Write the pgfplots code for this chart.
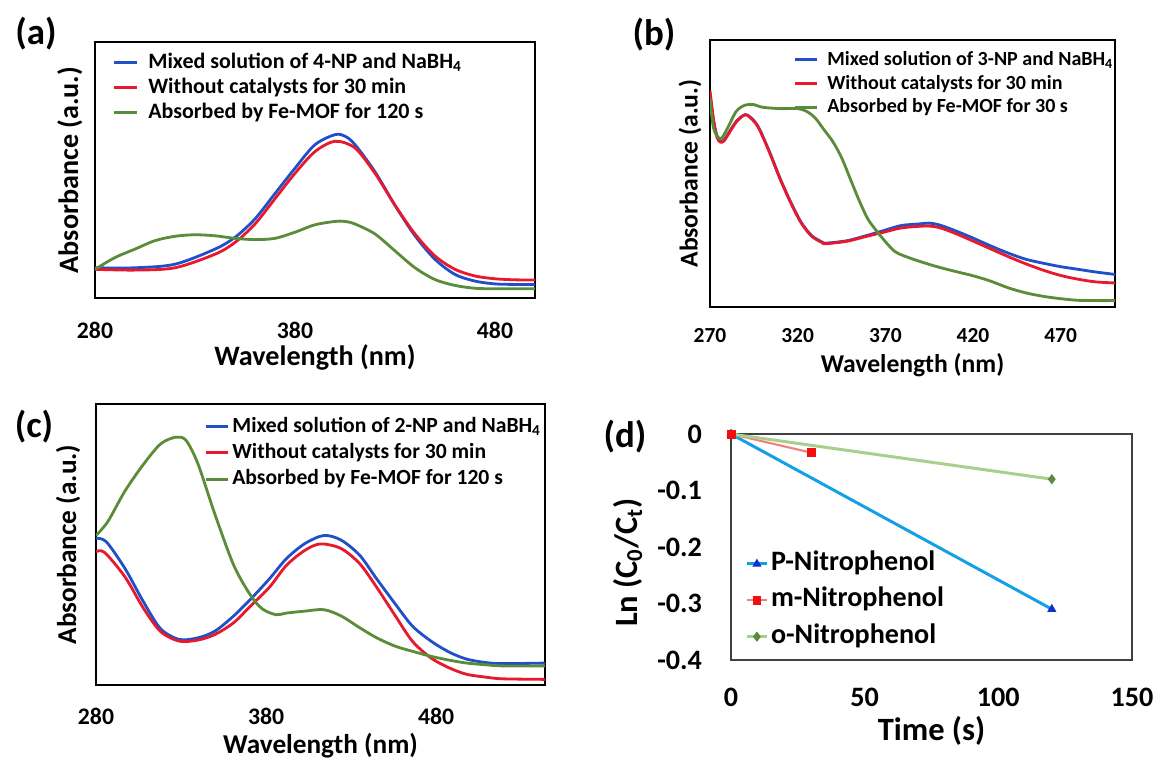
\documentclass[border=0pt]{standalone}
\usepackage{fontspec}
\setmainfont{Carlito}
\usepackage{pgfplots}
\pgfplotsset{compat=1.18}

\definecolor{cblue}{HTML}{2050C8}
\definecolor{cred}{HTML}{E8192C}
\definecolor{cgreen}{HTML}{5B8C3A}
\definecolor{pline}{HTML}{14A0E6}
\definecolor{pmark}{HTML}{1030D0}
\definecolor{mline}{HTML}{F08080}
\definecolor{mmark}{HTML}{F01010}
\definecolor{oline}{HTML}{A8D08D}
\definecolor{omark}{HTML}{5A8A3A}
\definecolor{boxgray}{HTML}{404040}

% shared look of the three spectra panels
\pgfplotsset{
  spec/.style={
    scale only axis,
    axis line style={black, line width=1.1pt},
    major tick length=0pt,
    ytick=\empty, ymin=0, ymax=1,
    /pgf/number format/assume math mode=true,
    /pgf/number format/1000 sep={},
    tick label style={font=\fontsize{13.5}{14}\selectfont\bfseries},
    label style={font=\fontsize{16}{18}\selectfont\bfseries},
    xlabel={Wavelength (nm)},
    ylabel={Absorbance (a.u.)},
    legend cell align=left,
    legend image code/.code={\draw[##1, line width=1.8pt] (0cm,0cm) -- (0.46cm,0cm);},
    legend style={draw=none, fill=none, inner sep=0pt, column sep=5.5pt,
      font=\fontsize{12.5}{13}\selectfont\bfseries,
      nodes={inner sep=0pt, text height=9pt, text depth=2.5pt}},
    every axis plot/.append style={line width=1.6pt, smooth, no markers},
  },
}

\begin{document}
\begin{tikzpicture}
\path[use as bounding box] (0,0) rectangle (23.06,15.22);

% panel labels
\node[font=\fontsize{21}{22}\selectfont\bfseries] at (0.72,14.54) {(a)};
\node[font=\fontsize{21}{22}\selectfont\bfseries] at (13.08,14.52) {(b)};
\node[font=\fontsize{21}{22}\selectfont\bfseries] at (0.68,6.68) {(c)};
\node[font=\fontsize{21}{22}\selectfont\bfseries] at (12.5,6.48) {(d)};

% (a) 4-NP
\begin{axis}[spec, at={(1.9cm,9.26cm)}, anchor=south west,
  width=8.8cm, height=5.12cm,
  xmin=280, xmax=500, xtick={280,380,480},
  xticklabel style={anchor=center, yshift=-18.7pt},
  xlabel style={at={(axis description cs:0.5,-0.234)}, anchor=center},
  ylabel style={at={(axis description cs:-0.057,0.5)}, anchor=center},
  legend style={at={(0.039,0.961)}, anchor=north west, row sep=2.7pt}]
\addplot[cblue] coordinates {
  (280,0.118)(300,0.118)(320,0.132)(340,0.191)(350,0.237)(360,0.309)
  (370,0.408)(380,0.507)(390,0.599)(400,0.638)(405,0.632)(410,0.599)
  (420,0.493)(430,0.362)(440,0.243)(450,0.151)(460,0.092)(470,0.066)
  (480,0.055)(490,0.053)(500,0.053)};
\addlegendentry{Mixed solution of 4-NP and NaBH\textsubscript{4}}
\addplot[cred] coordinates {
  (280,0.112)(300,0.109)(320,0.118)(340,0.171)(350,0.217)(360,0.289)
  (370,0.388)(380,0.487)(390,0.572)(400,0.612)(410,0.586)(420,0.487)
  (430,0.362)(440,0.250)(450,0.164)(460,0.112)(470,0.086)(480,0.075)
  (490,0.071)(500,0.070)};
\addlegendentry{Without catalysts for 30 min}
\addplot[cgreen] coordinates {
  (280,0.112)(290,0.158)(300,0.191)(310,0.224)(320,0.241)(330,0.247)
  (340,0.243)(350,0.233)(360,0.228)(370,0.233)(380,0.257)(390,0.286)
  (400,0.299)(405,0.299)(410,0.289)(420,0.250)(430,0.184)(440,0.118)
  (450,0.072)(460,0.049)(470,0.038)(480,0.036)(500,0.036)};
\addlegendentry{Absorbed by Fe-MOF for 120 s}
\end{axis}

% (b) 3-NP
\begin{axis}[spec, at={(14.2cm,9.08cm)}, anchor=south west,
  width=8.1cm, height=5.34cm,
  xmin=270, xmax=501, xtick={270,320,370,420,470},
  tick label style={font=\fontsize{12.2}{13}\selectfont\bfseries},
  label style={font=\fontsize{14.6}{16}\selectfont\bfseries},
  xticklabel style={anchor=center, yshift=-16.4pt},
  xlabel style={at={(axis description cs:0.5,-0.217)}, anchor=center},
  ylabel style={at={(axis description cs:-0.049,0.5)}, anchor=center},
  legend image code/.code={\draw[#1, line width=1.8pt] (0cm,0cm) -- (0.44cm,0cm);},
  legend style={at={(0.205,0.963)}, anchor=north west, row sep=2.6pt,
    column sep=5pt, font=\fontsize{11.4}{12}\selectfont\bfseries,
    nodes={inner sep=0pt, text height=8.5pt, text depth=2.5pt}}]
\addplot[cblue] coordinates {
  (270,0.80)(272,0.70)(274,0.64)(276,0.62)(278,0.625)(280,0.645)
  (285,0.695)(290,0.72)(294,0.705)(298,0.669)(304,0.58)(310,0.481)
  (316,0.393)(322,0.317)(328,0.267)(334,0.243)(336,0.239)(348,0.248)
  (359,0.267)(369,0.286)(379,0.305)(389,0.311)(395,0.314)(401,0.307)
  (409,0.288)(419,0.261)(430,0.229)(440,0.202)(450,0.179)(460,0.164)
  (470,0.151)(480,0.141)(490,0.131)(501,0.122)};
\addlegendentry{Mixed solution of 3-NP and NaBH\textsubscript{4}}
\addplot[cred] coordinates {
  (270,0.81)(272,0.70)(274,0.635)(276,0.617)(278,0.622)(280,0.642)
  (285,0.693)(290,0.72)(294,0.703)(298,0.667)(304,0.578)(310,0.479)
  (316,0.391)(322,0.315)(328,0.265)(334,0.241)(336,0.237)(348,0.246)
  (359,0.264)(369,0.280)(379,0.296)(389,0.302)(395,0.303)(401,0.297)
  (409,0.278)(419,0.250)(430,0.218)(440,0.189)(450,0.162)(460,0.138)
  (470,0.118)(480,0.104)(490,0.094)(501,0.090)};
\addlegendentry{Without catalysts for 30 min}
\addplot[cgreen] coordinates {
  (270,0.783)(272,0.67)(276,0.63)(280,0.67)(285,0.733)(290,0.756)
  (295,0.758)(300,0.748)(310,0.743)(320,0.743)(325,0.733)(330,0.708)
  (335,0.664)(340,0.62)(345,0.56)(350,0.48)(355,0.40)(360,0.33)
  (365,0.285)(370,0.245)(375,0.21)(380,0.193)(390,0.170)(400,0.150)
  (410,0.133)(420,0.117)(430,0.097)(440,0.072)(450,0.053)(460,0.040)
  (470,0.031)(480,0.025)(490,0.024)(501,0.024)};
\addlegendentry{Absorbed by Fe-MOF for 30 s}
\end{axis}

% (c) 2-NP
\begin{axis}[spec, at={(1.92cm,1.52cm)}, anchor=south west,
  width=8.98cm, height=5.62cm,
  xmin=280, xmax=544, xtick={280,380,480},
  label style={font=\fontsize{15.5}{17}\selectfont\bfseries},
  xticklabel style={anchor=center, yshift=-18.1pt},
  xlabel style={at={(axis description cs:0.5,-0.217)}, anchor=center},
  ylabel style={at={(axis description cs:-0.062,0.5)}, anchor=center},
  legend image code/.code={\draw[#1, line width=1.8pt] (0cm,0cm) -- (0.44cm,0cm);},
  legend style={at={(0.241,0.957)}, anchor=north west, row sep=3.5pt,
    column sep=1.5pt, font=\fontsize{12.3}{13}\selectfont\bfseries}]
\addplot[cblue] coordinates {
  (280,0.522)(286,0.510)(297,0.415)(308,0.295)(318,0.200)(329,0.162)
  (340,0.168)(350,0.192)(361,0.246)(371,0.306)(382,0.378)(392,0.450)
  (403,0.504)(414,0.532)(424,0.516)(435,0.462)(445,0.378)(456,0.288)
  (466,0.210)(477,0.156)(488,0.116)(498,0.092)(509,0.080)(519,0.076)
  (544,0.078)};
\addlegendentry{Mixed solution of 2-NP and NaBH\textsubscript{4}}
\addplot[cred] coordinates {
  (280,0.474)(285,0.472)(297,0.385)(308,0.272)(318,0.190)
  (329,0.156)(340,0.160)(350,0.180)(361,0.222)(371,0.282)(382,0.348)
  (392,0.426)(403,0.480)(412,0.502)(424,0.486)(435,0.432)(445,0.348)
  (456,0.246)(466,0.156)(477,0.096)(488,0.060)(498,0.038)(509,0.028)
  (519,0.022)(544,0.020)};
\addlegendentry{Without catalysts for 30 min}
\addplot[cgreen] coordinates {
  (280,0.532)(287,0.582)(297,0.690)(308,0.786)(318,0.858)(327,0.882)
  (333,0.870)(340,0.786)(350,0.606)(361,0.426)(371,0.318)(378,0.270)
  (386,0.250)(392,0.256)(403,0.263)(414,0.268)(424,0.246)(435,0.204)
  (445,0.168)(456,0.138)(466,0.120)(477,0.102)(488,0.088)(498,0.078)
  (509,0.072)(519,0.068)(544,0.068)};
\addlegendentry{Absorbed by Fe-MOF for 120 s}
\end{axis}

% (d) kinetics
\begin{axis}[scale only axis, at={(14.62cm,2.02cm)}, anchor=south west,
  width=8.02cm, height=4.52cm,
  xmin=0, xmax=150, ymin=-0.4, ymax=0,
  xtick={0,50,100,150},
  ytick={-0.4,-0.3,-0.2,-0.1,0},
  yticklabels={-0.4,-0.3,-0.2,-0.1,0},
  major tick length=0pt,
  axis line style={boxgray, line width=1.1pt},
  /pgf/number format/assume math mode=true,
  tick label style={font=\fontsize{16}{17}\selectfont\bfseries},
  xticklabel style={anchor=center, yshift=-21pt},
  yticklabel style={anchor=east, xshift=-13pt},
  label style={font=\fontsize{18.5}{20}\selectfont\bfseries},
  xlabel={Time (s)},
  ylabel={Ln (C\textsubscript{0}/C\textsubscript{t})},
  xlabel style={at={(axis description cs:0.5,-0.314)}, anchor=center},
  ylabel style={at={(axis description cs:-0.257,0.43)}, anchor=center},
  legend cell align=left,
  legend image code/.code={\draw[#1, mark repeat=2, mark phase=2]
    plot coordinates {(0cm,0cm) (0.2cm,0cm) (0.4cm,0cm)};},
  legend style={draw=none, fill=none, inner sep=0pt, column sep=1.5pt,
    at={(0.035,0.487)}, anchor=north west, row sep=5.2pt,
    font=\fontsize{16}{17}\selectfont\bfseries,
    nodes={inner sep=0pt, text height=11.5pt, text depth=4pt}},
  clip=false]
\addplot[pline, line width=1.7pt, mark=triangle*, mark size=2.6pt,
  mark options={pmark, fill=pmark, line width=0.4pt}] coordinates {(0,0)(120,-0.31)};
\addlegendentry{P-Nitrophenol}
\addplot[mline, line width=1.2pt, mark=square*, mark size=2.2pt,
  mark options={mmark, fill=mmark, line width=0.4pt}] coordinates {(0,0)(30,-0.033)};
\addlegendentry{m-Nitrophenol}
\addplot[oline, line width=1.7pt, mark=diamond*, mark size=2.6pt,
  mark options={omark, fill=omark, line width=0.4pt}] coordinates {(0,0)(120,-0.08)};
\addlegendentry{o-Nitrophenol}
% red square sits on top at the origin
\addplot[forget plot, only marks, mark=square*, mark size=2.2pt,
  mark options={mmark, fill=mmark}] coordinates {(0,0)};
\end{axis}
\end{tikzpicture}
\end{document}
